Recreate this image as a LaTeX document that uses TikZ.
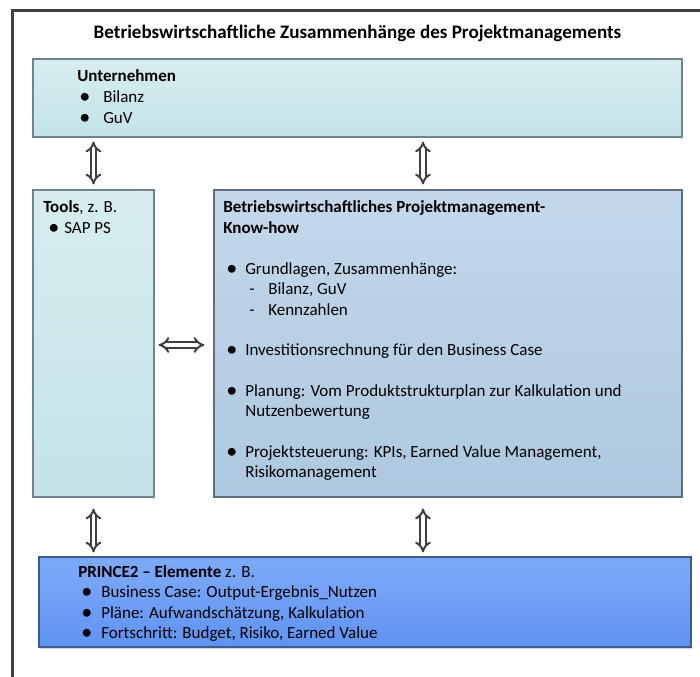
\documentclass[tikz,border=0pt]{standalone}
\usepackage{fontspec}
\setmainfont{Carlito}
\usepackage{graphicx}
\usetikzlibrary{arrows.meta}
\usetikzlibrary{fit}
\usetikzlibrary{shadows}

\definecolor{framegray}{HTML}{404040}
\definecolor{arrowgray}{HTML}{404040}
\definecolor{tealtop}{HTML}{D7EDF0}
\definecolor{tealbot}{HTML}{C3E3E8}
\definecolor{tealline}{HTML}{6E8590}
\definecolor{steeltop}{HTML}{C4D8EA}
\definecolor{steelbot}{HTML}{ACC8E0}
\definecolor{steelline}{HTML}{5F6E7D}
\definecolor{bluetop}{HTML}{7EAAF8}
\definecolor{bluebot}{HTML}{5F93F2}
\definecolor{blueline}{HTML}{3F5B8C}

% bullet lines: indent, bullet box, text
\newcommand{\bigbul}{\raisebox{-0.12ex}{\scalebox{1.3}{\textbullet}}}
\newcommand{\itm}[3]{\hspace*{#1}\makebox[#2][l]{\bigbul}#3}
\newcommand{\subitm}[1]{\hspace*{19.5pt}\makebox[14.25pt][l]{-}#1}

\tikzset{
    box/.style={
           rectangle,
           draw, line width=0.8pt,
           inner sep=0pt,
           },
    tealbox/.style={
           box, draw=tealline,
           top color=tealtop, bottom color=tealbot,
           },
    steelbox/.style={
           box, draw=steelline,
           top color=steeltop, bottom color=steelbot,
           },
    bluebox/.style={
           box, draw=blueline,
           top color=bluetop, bottom color=bluebot,
           drop shadow={shadow xshift=0.6pt, shadow yshift=-1.2pt, opacity=0.35, fill=gray},
           },
    txt/.style={
           inner sep=0pt,
           anchor=base west,
           font=\fontsize{12.75}{15.4}\selectfont,
           },
    dblarrow/.style={
           draw=arrowgray, line width=1.5pt,
           double=white, double distance=2.4pt,
           {Implies[scale=1.15]}-{Implies[scale=1.15]},
           },
}

\begin{document}
\begin{tikzpicture}[x=0.75pt, y=-0.75pt]
	\useasboundingbox (0,0) rectangle (700,677);
	\clip (0,0) rectangle (700,677);

	% outer frame, open to the right and bottom
	\draw[framegray, line width=1.9pt] (12.5,10.5) rectangle (720,700);

	\node[inner sep=0pt, anchor=base, font=\fontsize{14.3}{17}\selectfont\bfseries] (title) at (357.5,39)
		{Betriebswirtschaftliche Zusammenhänge des Projektmanagements};

	% boxes
	\node[tealbox, fit={(33,59) (682,137)}] (unt) {};
	\node[tealbox, fit={(33,190) (154,497)}] (tools) {};
	\node[steelbox, fit={(214,190) (682,497)}] (kh) {};
	\node[bluebox, fit={(39,557) (691,647)}] (pri) {};

	% texts
	\node[txt] (unttxt) at (77,82) {
		\begin{tabular}[t]{@{}l@{}}
		\textbf{Unternehmen}\\
		\itm{1.5pt}{18pt}{Bilanz}\\
		\itm{1.5pt}{18pt}{GuV}
		\end{tabular}
	};

	\node[txt] (toolstxt) at (43,213) {
		\begin{tabular}[t]{@{}l@{}}
		\textbf{Tools}, z. B.\\
		\itm{3.75pt}{12pt}{SAP PS}
		\end{tabular}
	};

	\node[txt] (khtxt) at (223,213) {
		\begin{tabular}[t]{@{}l@{}}
		\textbf{Betriebswirtschaftliches Projektmanagement-}\\
		\textbf{Know-how}\\[15pt]
		\itm{2.25pt}{14.25pt}{Grundlagen, Zusammenhänge:}\\
		\subitm{Bilanz, GuV}\\
		\subitm{Kennzahlen}\\[15pt]
		\itm{2.25pt}{14.25pt}{Investitionsrechnung für den Business Case}\\[15pt]
		\itm{2.25pt}{14.25pt}{Planung: Vom Produktstrukturplan zur Kalkulation und}\\
		\hspace*{16.5pt}Nutzenbewertung\\[15pt]
		\itm{2.25pt}{14.25pt}{Projektsteuerung: KPIs, Earned Value Management,}\\
		\hspace*{16.5pt}Risikomanagement
		\end{tabular}
	};

	\node[txt] (pritxt) at (78,577) {
		\begin{tabular}[t]{@{}l@{}}
		\textbf{PRINCE2 – Elemente} z. B.\\
		\itm{2.25pt}{15pt}{Business Case: Output-Ergebnis\_Nutzen}\\
		\itm{2.25pt}{15pt}{Pläne: Aufwandschätzung, Kalkulation}\\
		\itm{2.25pt}{15pt}{Fortschritt: Budget, Risiko, Earned Value}
		\end{tabular}
	};

	% connectors
	\coordinate (kx) at (423,0);
	\coordinate (my) at (0,345);

	\draw[dblarrow, shorten <=3pt, shorten >=3.75pt] (unt.south -| tools.north) -- (tools.north);
	\draw[dblarrow, shorten <=3pt, shorten >=3.75pt] (unt.south -| kx) -- (kh.north -| kx);
	\draw[dblarrow, shorten <=3pt, shorten >=6.75pt] (tools.east |- my) -- (kh.west |- my);
	\draw[dblarrow, shorten <=8.25pt, shorten >=3pt] (tools.south) -- (pri.north -| tools.south);
	\draw[dblarrow, shorten <=8.25pt, shorten >=3pt] (kh.south -| kx) -- (pri.north -| kx);

\end{tikzpicture}
\end{document}
